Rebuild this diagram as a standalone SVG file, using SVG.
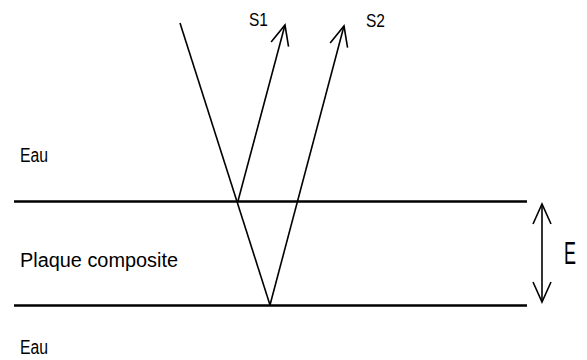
<svg xmlns="http://www.w3.org/2000/svg" width="587" height="360" viewBox="0 0 587 360">
  <style>
    .lbl { font-family: "Liberation Sans", Arial, sans-serif; fill: #000; }
    .ray { stroke: #000; stroke-width: 1.6; fill: none; }
    .iface { stroke: #000; stroke-width: 2.5; fill: none; }
  </style>
  <defs>
    <marker id="open" markerUnits="userSpaceOnUse" markerWidth="30" markerHeight="30" viewBox="-25 -15 30 30" refX="0" refY="0" orient="auto-start-reverse">
      <path d="M -20 -9 L 0 0 L -20 9" fill="none" stroke="#000" stroke-width="1.6"/>
    </marker>
  </defs>
  <rect width="587" height="360" fill="#fff"/>

  <g id="interfaces">
    <line class="iface" x1="14" y1="201.5" x2="527" y2="201.5"/>
    <line class="iface" x1="14" y1="305.5" x2="527" y2="305.5"/>
  </g>

  <g id="connectors">
    <line class="ray" x1="180" y1="23" x2="270" y2="305"/>
    <line class="ray" x1="238" y1="201" x2="285" y2="25" marker-end="url(#open)"/>
    <line class="ray" x1="270" y1="305" x2="344" y2="26" marker-end="url(#open)"/>
    <line class="ray" x1="542" y1="204" x2="542" y2="302" marker-start="url(#open)" marker-end="url(#open)"/>
  </g>

  <g id="label-eau-top"><text class="lbl" x="20" y="162" font-size="20" textLength="28" lengthAdjust="spacingAndGlyphs">Eau</text></g>
  <g id="label-plaque"><text class="lbl" x="20" y="266.5" font-size="20" textLength="158" lengthAdjust="spacingAndGlyphs">Plaque composite</text></g>
  <g id="label-eau-bottom"><text class="lbl" x="20" y="354" font-size="20" textLength="28" lengthAdjust="spacingAndGlyphs">Eau</text></g>
  <g id="label-s1"><text class="lbl" x="249" y="26" font-size="18" textLength="19" lengthAdjust="spacingAndGlyphs">S1</text></g>
  <g id="label-s2"><text class="lbl" x="366" y="27" font-size="18" textLength="19" lengthAdjust="spacingAndGlyphs">S2</text></g>
  <g id="label-e"><text class="lbl" x="564" y="264" font-size="31" textLength="12" lengthAdjust="spacingAndGlyphs">E</text></g>
</svg>
